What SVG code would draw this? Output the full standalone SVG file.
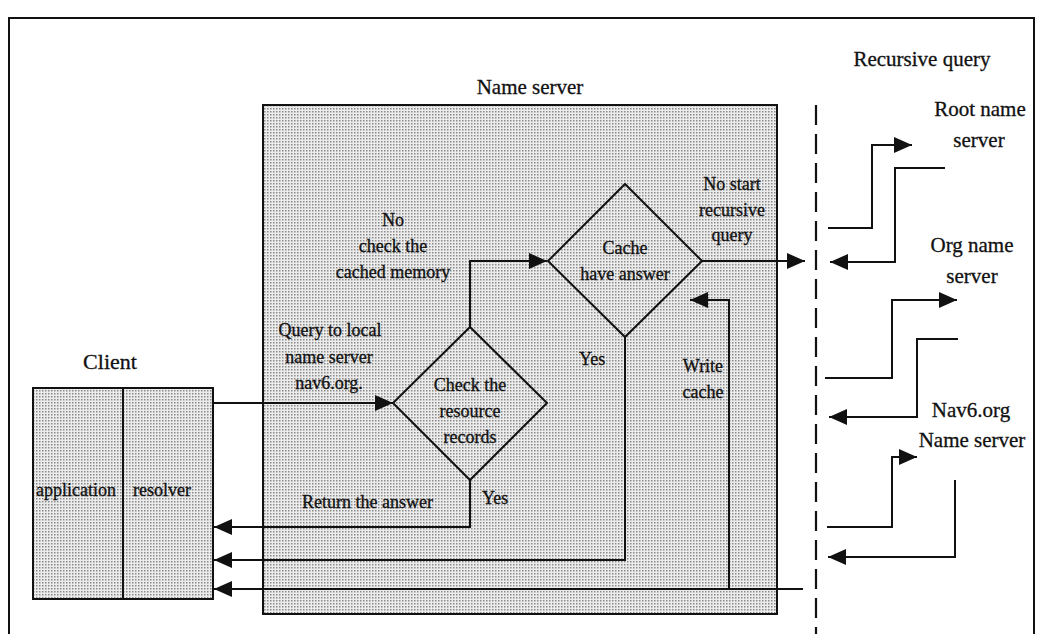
<svg xmlns="http://www.w3.org/2000/svg" width="1038" height="634" viewBox="0 0 1038 634">
  <style>
    .frame { fill: none; stroke: #111; stroke-width: 2; }
    .box { fill: url(#stipple); stroke: #111; stroke-width: 2; }
    .dia { fill: url(#stipple); stroke: #111; stroke-width: 2; }
    .wire { fill: none; stroke: #111; stroke-width: 2; }
    .arrow { fill: none; stroke: #111; stroke-width: 2; marker-end: url(#head); }
    .dash { fill: none; stroke: #111; stroke-width: 2.2; stroke-dasharray: 20 9; }
    text { font-family: "Liberation Serif", "Times New Roman", serif; fill: #111; stroke: #111; stroke-width: 0.3; }
    .lg { font-size: 21px; }
    .md { font-size: 18px; }
    .c { text-anchor: middle; }
  </style>
  <defs>
    <pattern id="stipple" width="3" height="3" patternUnits="userSpaceOnUse">
      <rect width="3" height="3" fill="#ececec"/>
      <rect x="0" y="0" width="1.5" height="1.5" fill="#8a8a8a"/>
    </pattern>
    <marker id="head" viewBox="0 0 18 16" refX="18" refY="8" markerWidth="18" markerHeight="16" markerUnits="userSpaceOnUse" orient="auto">
      <path d="M0,0 L18,8 L0,16 z" fill="#111"/>
    </marker>
  </defs>

  <!-- outer frame -->
  <rect class="frame" x="9" y="18" width="1025" height="630"/>

  <!-- name server container -->
  <g id="name-server">
    <rect class="box" x="263" y="105" width="514" height="509"/>
    <text class="lg c" x="530" y="94">Name server</text>
  </g>

  <!-- client with application / resolver -->
  <g id="client">
    <rect class="box" x="33" y="388" width="180" height="211"/>
    <line class="wire" x1="123" y1="388" x2="123" y2="599"/>
    <text class="lg c" x="110" y="369" style="font-size:22px">Client</text>
    <text class="md" x="36" y="496">application</text>
    <text class="md" x="133" y="496">resolver</text>
  </g>

  <!-- decision: resource records -->
  <g id="check-records">
    <polygon class="dia" points="470,327 547,403 470,480 393,403"/>
    <text class="md c" x="470" y="391">Check the</text>
    <text class="md c" x="470" y="417">resource</text>
    <text class="md c" x="470" y="443">records</text>
  </g>

  <!-- decision: cache -->
  <g id="check-cache">
    <polygon class="dia" points="625,184 702,261 625,337 548,261"/>
    <text class="md c" x="625" y="254">Cache</text>
    <text class="md c" x="625" y="280">have answer</text>
  </g>

  <!-- external servers -->
  <g id="recursive-query">
    <line class="dash" x1="816" y1="105" x2="816" y2="634"/>
    <text class="lg c" x="922" y="66">Recursive query</text>
  </g>
  <g id="root-server">
    <text class="lg c" x="980" y="116">Root name</text>
    <text class="lg c" x="979" y="147">server</text>
  </g>
  <g id="org-server">
    <text class="lg c" x="972" y="252">Org name</text>
    <text class="lg c" x="972" y="283">server</text>
  </g>
  <g id="nav6-server">
    <text class="lg c" x="971" y="417">Nav6.org</text>
    <text class="lg c" x="972" y="447">Name server</text>
  </g>

  <!-- connectors -->
  <g id="connectors">
    <path class="arrow" d="M213,403 H393"/>
    <path class="arrow" d="M470,327 V261 H547"/>
    <path class="arrow" d="M702,261 H805"/>
    <path class="arrow" d="M470,480 V527 H214"/>
    <path class="arrow" d="M625,337 V560 H214"/>
    <path class="arrow" d="M729,589 V300 H690"/>
    <path class="arrow" d="M803,589 H214"/>

    <path class="arrow" d="M828,228 H872 V145 H912"/>
    <path class="arrow" d="M945,168 H895 V262 H830"/>
    <path class="arrow" d="M825,378 H892 V300 H957"/>
    <path class="arrow" d="M958,339 H917 V417 H829"/>
    <path class="arrow" d="M827,527 H892 V457 H917"/>
    <path class="arrow" d="M955,480 V557 H828"/>

    <!-- connector labels -->
    <text class="md c" x="393" y="226">No</text>
    <text class="md c" x="393" y="252">check the</text>
    <text class="md c" x="393" y="278">cached memory</text>
    <text class="md c" x="330" y="336">Query to local</text>
    <text class="md c" x="329" y="363">name server</text>
    <text class="md c" x="329" y="389">nav6.org.</text>
    <text class="md c" x="732" y="190">No start</text>
    <text class="md c" x="732" y="216">recursive</text>
    <text class="md c" x="732" y="241">query</text>
    <text class="md c" x="703" y="372">Write</text>
    <text class="md c" x="703" y="398">cache</text>
    <text class="md" x="482" y="504">Yes</text>
    <text class="md" x="302" y="508">Return the answer</text>
    <text class="md" x="579" y="365">Yes</text>
  </g>
</svg>
